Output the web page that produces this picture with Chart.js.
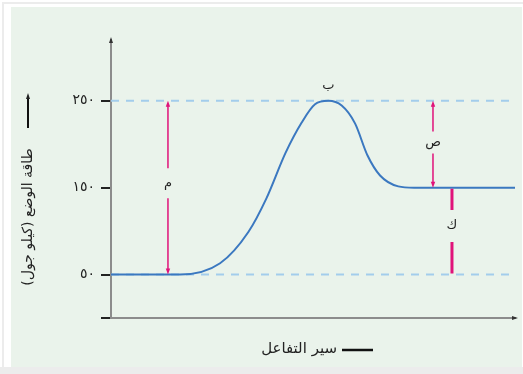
<!DOCTYPE html>
<html>
<head>
<meta charset="utf-8">
<script src="https://cdn.jsdelivr.net/npm/chart.js@4/dist/chart.umd.min.js"></script>
<style>
  html, body { margin: 0; padding: 0; background: #fff; }
  #c { display: block; }
</style>
</head>
<body>
<canvas id="c" width="523" height="374"></canvas>
<script>
// reaction path (x = reaction progress 0..100, y = potential energy kJ)
const pathX = [0, 17.1, 27.0, 34.0, 38.5, 43.2, 47.2, 50.5, 53.8, 57.1, 60.4, 63.5, 66.6, 71.1, 75, 100];
const pathY = [50, 50, 63, 99, 138, 190, 225, 246, 250, 244.5, 224, 187, 164, 151.5, 150, 150];

// dashed reference levels
const refLevels = [50, 250];

// y ticks
const tickValues = [0, 50, 150, 250];
const tickLabels = ['', '٥٠', '١٥٠', '٢٥٠'];

// magenta arrows: x position, from, to, label, label position
const arrowX = [14.1, 79.7, 84.4];
const arrowFrom = [250, 250, 150];
const arrowTo = [50, 150, 50];
const arrowLabel = ['م', 'ص', 'ك'];
const arrowLabelY = [155, 202, 106];

const peakLabel = 'ب';
const peakX = 53.8, peakY = 250;

const yTitle = 'طاقة الوضع (كيلو جول)';
const xTitle = 'سير التفاعل';

const MAGENTA = '#e0137a';
const arFont = '"DejaVu Sans", sans-serif';

function arrowHead(ctx, x, y, dir, w, l) {
  // dir: -1 up, 1 down
  ctx.beginPath();
  ctx.moveTo(x, y);
  ctx.lineTo(x - w, y - dir * l);
  ctx.lineTo(x + w, y - dir * l);
  ctx.closePath();
  ctx.fill();
}

const deco = {
  id: 'deco',
  beforeDraw(chart) {
    const ctx = chart.ctx;
    ctx.save();
    ctx.fillStyle = '#ffffff';
    ctx.fillRect(0, 0, 523, 374);
    ctx.fillStyle = '#ececec';
    ctx.fillRect(0, 367, 523, 7);
    ctx.strokeStyle = '#ececec';
    ctx.lineWidth = 2;
    ctx.strokeRect(3, 3, 522, 366);
    ctx.fillStyle = '#eaf3eb';
    ctx.fillRect(11, 7, 511, 360);
    ctx.restore();
  },
  afterDatasetsDraw(chart) {
    const ctx = chart.ctx;
    const xs = chart.scales.x, ys = chart.scales.y;
    ctx.save();
    ctx.strokeStyle = MAGENTA;
    ctx.fillStyle = MAGENTA;
    for (let i = 0; i < arrowX.length; i++) {
      const px = xs.getPixelForValue(arrowX[i]);
      const y1 = ys.getPixelForValue(arrowFrom[i]);
      const y2 = ys.getPixelForValue(arrowTo[i]);
      const ly = ys.getPixelForValue(arrowLabelY[i]);
      const thick = i === 2;
      const gap = thick ? 16 : (i === 0 ? 15 : 11);
      ctx.lineWidth = thick ? 3 : 1.5;
      ctx.beginPath();
      ctx.moveTo(px, y1 + (thick ? 1 : 3));
      ctx.lineTo(px, ly - gap);
      ctx.moveTo(px, ly + gap);
      ctx.lineTo(px, y2 - (thick ? 1 : 3));
      ctx.stroke();
      if (!thick) {
        arrowHead(ctx, px, y1, -1, 2.2, 6);
        arrowHead(ctx, px, y2, 1, 2.2, 6);
      }
    }
    ctx.fillStyle = '#222';
    ctx.font = '13px ' + arFont;
    ctx.textAlign = 'center';
    ctx.textBaseline = 'middle';
    ctx.direction = 'rtl';
    for (let i = 0; i < arrowX.length; i++) {
      ctx.fillText(arrowLabel[i], xs.getPixelForValue(arrowX[i]), ys.getPixelForValue(arrowLabelY[i]));
    }
    ctx.fillText(peakLabel, xs.getPixelForValue(peakX), ys.getPixelForValue(peakY) - 15);
    ctx.restore();
  },
  afterDraw(chart) {
    const ctx = chart.ctx;
    const a = chart.chartArea;
    ctx.save();
    // axis arrow ends
    ctx.fillStyle = '#333';
    ctx.beginPath();
    ctx.moveTo(a.left, a.top - 3);
    ctx.lineTo(a.left - 2, a.top + 3);
    ctx.lineTo(a.left + 2, a.top + 3);
    ctx.closePath();
    ctx.fill();
    ctx.beginPath();
    ctx.moveTo(a.right + 3, a.bottom);
    ctx.lineTo(a.right - 3, a.bottom - 2);
    ctx.lineTo(a.right - 3, a.bottom + 2);
    ctx.closePath();
    ctx.fill();

    // y title with arrow
    ctx.fillStyle = '#222';
    ctx.strokeStyle = '#111';
    ctx.lineWidth = 2;
    ctx.beginPath();
    ctx.moveTo(28, 128);
    ctx.lineTo(28, 97);
    ctx.stroke();
    arrowHead(ctx, 28, 93, -1, 2, 6);
    ctx.save();
    ctx.translate(28, 217);
    ctx.rotate(-Math.PI / 2);
    ctx.font = '14px ' + arFont;
    ctx.textAlign = 'center';
    ctx.textBaseline = 'middle';
    ctx.direction = 'rtl';
    ctx.fillText(yTitle, 0, 0);
    ctx.restore();

    // x title with line
    ctx.lineWidth = 2.5;
    ctx.beginPath();
    ctx.moveTo(342, 350);
    ctx.lineTo(373, 350);
    ctx.stroke();
    ctx.font = '15px ' + arFont;
    ctx.textAlign = 'right';
    ctx.textBaseline = 'middle';
    ctx.direction = 'ltr';
    ctx.fillText(xTitle, 337, 349);
    ctx.restore();
  }
};

const datasets = refLevels.map(v => ({
  data: [{ x: 0, y: v }, { x: 100, y: v }],
  borderColor: '#a3cdec',
  borderWidth: 2,
  borderDash: [8, 7],
  pointRadius: 0,
  order: 2
}));
datasets.push({
  data: pathX.map((x, i) => ({ x: x, y: pathY[i] })),
  borderColor: '#3b78c0',
  borderWidth: 2,
  pointRadius: 0,
  cubicInterpolationMode: 'monotone',
  order: 1
});

new Chart(document.getElementById('c'), {
  type: 'line',
  data: { datasets: datasets },
  plugins: [deco],
  options: {
    responsive: false,
    animation: false,
    devicePixelRatio: 1,
    layout: { padding: { left: 0, top: 40, right: 8, bottom: 0 } },
    plugins: { legend: { display: false }, tooltip: { enabled: false } },
    scales: {
      x: {
        type: 'linear',
        min: 0,
        max: 100,
        grid: { display: false },
        ticks: { display: false },
        border: { display: true, color: '#8c8c8c', width: 2 },
        afterFit(s) { s.height = 56; }
      },
      y: {
        min: 0,
        max: 320,
        afterBuildTicks(s) { s.ticks = tickValues.map(v => ({ value: v })); },
        afterFit(s) { s.width = 111; },
        grid: { drawOnChartArea: false, drawTicks: true, tickLength: 10, color: '#222', lineWidth: 2 },
        border: { display: true, color: '#8c8c8c', width: 2 },
        ticks: {
          padding: 6,
          color: '#222',
          font: { family: 'DejaVu Sans', size: 14 },
          callback: (v) => tickLabels[tickValues.indexOf(v)] ?? ''
        }
      }
    }
  }
});
</script>
</body>
</html>
